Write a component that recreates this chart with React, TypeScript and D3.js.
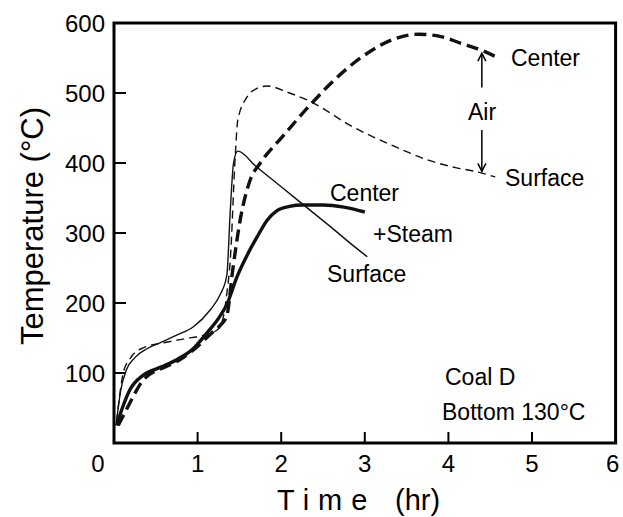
import { useEffect, useRef } from "react";
import * as d3 from "d3";

// Air: center (thick dashed), surface (thin dashed)
const airCenterTime = [0.05, 0.15, 0.25, 0.33, 0.45, 0.6, 0.8, 1.0, 1.15, 1.27, 1.35, 1.42, 1.51, 1.63, 1.75, 2.01, 2.37, 2.57, 2.96, 3.37, 3.64, 3.9, 4.15, 4.4, 4.6];
const airCenterTemp = [25, 48, 71, 87, 100, 108, 120, 138, 155, 168, 182, 247, 319, 376, 400, 437, 486, 511, 551, 578, 584, 581, 571, 561, 550];

const airSurfaceTime = [0.03, 0.07, 0.11, 0.2, 0.35, 0.63, 0.85, 1.07, 1.23, 1.3, 1.35, 1.39, 1.45, 1.48, 1.59, 1.7, 1.83, 2.1, 2.38, 2.82, 3.37, 3.76, 4.1, 4.36, 4.56];
const airSurfaceTemp = [30, 70, 100, 122, 136, 144, 149, 154, 161, 176, 214, 260, 409, 461, 494, 506, 510, 500, 486, 454, 423, 404, 393, 387, 380];

// +Steam: center (thick solid), surface (thin solid)
const steamCenterTime = [0.03, 0.1, 0.19, 0.35, 0.55, 0.75, 0.95, 1.11, 1.25, 1.35, 1.47, 1.6, 1.71, 1.83, 1.95, 2.1, 2.25, 2.5, 2.75, 3.0];
const steamCenterTemp = [25, 50, 76, 97, 108, 119, 135, 157, 178, 198, 237, 270, 294, 318, 332, 338, 340, 340, 337, 330];

const steamSurfaceTime = [0.03, 0.08, 0.15, 0.25, 0.4, 0.55, 0.75, 0.95, 1.15, 1.27, 1.35, 1.39, 1.43, 1.48, 1.7, 2.0, 2.3, 2.6, 2.85, 3.03];
const steamSurfaceTemp = [30, 75, 105, 122, 135, 143, 154, 166, 190, 212, 240, 330, 400, 417, 395, 366, 337, 308, 283, 266];

const xTicks = [1, 2, 3, 4, 5];
const xTickLabels = ["0", "1", "2", "3", "4", "5", "6"];
const yTicks = [100, 200, 300, 400, 500];
const yTickLabels = ["100", "200", "300", "400", "500", "600"];

const FONT = "'Liberation Sans', Arial, Helvetica, sans-serif";

const App = () => {
  const svgRef = useRef<SVGSVGElement>(null);

  useEffect(() => {
    if (!svgRef.current) return;
    const svg = d3.select(svgRef.current);
    svg.selectAll("*").remove();

    const x = d3.scaleLinear().domain([0, 6]).range([114, 615.6]);
    const y = d3.scaleLinear().domain([0, 600]).range([443, 23]);

    const line = d3
      .line<[number, number]>()
      .x((d) => x(d[0]))
      .y((d) => y(d[1]))
      .curve(d3.curveMonotoneX);

    const zip = (a: number[], b: number[]) => a.map((t, i) => [t, b[i]] as [number, number]);

    const series = [
      { data: zip(steamSurfaceTime, steamSurfaceTemp), width: 1.4, dash: null },
      { data: zip(airSurfaceTime, airSurfaceTemp), width: 1.4, dash: "8,5" },
      { data: zip(steamCenterTime, steamCenterTemp), width: 3.4, dash: null },
      { data: zip(airCenterTime, airCenterTemp), width: 3.4, dash: "12,6" },
    ];

    series.forEach((s) => {
      svg
        .append("path")
        .attr("d", line(s.data))
        .attr("fill", "none")
        .attr("stroke", "#111")
        .attr("stroke-width", s.width)
        .attr("stroke-dasharray", s.dash)
        .attr("stroke-linecap", "butt");
    });

    // frame
    svg
      .append("rect")
      .attr("x", x(0))
      .attr("y", y(600))
      .attr("width", x(6) - x(0))
      .attr("height", y(0) - y(600))
      .attr("fill", "none")
      .attr("stroke", "#000")
      .attr("stroke-width", 3);

    // inward ticks
    svg
      .selectAll(".xtick")
      .data(xTicks)
      .join("line")
      .attr("x1", (d) => x(d))
      .attr("x2", (d) => x(d))
      .attr("y1", y(0))
      .attr("y2", y(0) - 11)
      .attr("stroke", "#000")
      .attr("stroke-width", 2);
    svg
      .selectAll(".ytick")
      .data(yTicks)
      .join("line")
      .attr("x1", x(0))
      .attr("x2", x(0) + 12)
      .attr("y1", (d) => y(d))
      .attr("y2", (d) => y(d))
      .attr("stroke", "#000")
      .attr("stroke-width", 2);

    // tick labels
    svg
      .selectAll(".xlab")
      .data(xTickLabels)
      .join("text")
      .attr("x", (d, i) => (i === 0 ? x(0) - 16 : i === 6 ? x(6) - 3 : x(i)))
      .attr("y", 472)
      .attr("text-anchor", "middle")
      .style("font-family", FONT)
      .style("font-size", "24px")
      .text((d) => d);
    svg
      .selectAll(".ylab")
      .data(yTickLabels)
      .join("text")
      .attr("x", 105)
      .attr("y", (d) => y(+d) + 8.5)
      .attr("text-anchor", "end")
      .style("font-family", FONT)
      .style("font-size", "24px")
      .text((d) => d);

    // axis titles
    svg
      .append("text")
      .attr("transform", "translate(43,226) rotate(-90)")
      .attr("text-anchor", "middle")
      .style("font-family", FONT)
      .style("font-size", "31px")
      .text("Temperature (°C)");
    const xt = svg
      .append("text")
      .attr("x", 277)
      .attr("y", 510)
      .style("font-family", FONT)
      .style("font-size", "29px");
    xt.append("tspan").attr("letter-spacing", 9).text("Time");
    xt.append("tspan").attr("x", 395).text("(hr)");

    // annotations
    const notes = [
      { text: "Center", x: 511, y: 66 },
      { text: "Air", x: 482, y: 120, anchor: "middle" },
      { text: "Surface", x: 505, y: 186 },
      { text: "Center", x: 330, y: 201 },
      { text: "+Steam", x: 373, y: 242 },
      { text: "Surface", x: 327, y: 282 },
      { text: "Coal D", x: 445, y: 385 },
      { text: "Bottom 130°C", x: 442, y: 420 },
    ];
    notes.forEach((n) => {
      svg
        .append("text")
        .attr("x", n.x)
        .attr("y", n.y)
        .attr("text-anchor", n.anchor || "start")
        .style("font-family", FONT)
        .style("font-size", "23px")
        .text(n.text);
    });

    // arrow between Air center and surface
    const ax = x(4.4);
    const arrow = (y1: number, y2: number) => {
      svg
        .append("line")
        .attr("x1", ax)
        .attr("x2", ax)
        .attr("y1", y1)
        .attr("y2", y2)
        .attr("stroke", "#000")
        .attr("stroke-width", 1.5);
      const dir = y2 > y1 ? 1 : -1;
      svg
        .append("path")
        .attr("d", `M${ax - 4},${y2 - dir * 8}L${ax},${y2}L${ax + 4},${y2 - dir * 8}`)
        .attr("fill", "none")
        .attr("stroke", "#000")
        .attr("stroke-width", 1.5);
    };
    arrow(y(508), y(557));
    arrow(y(447), y(388));
  }, []);

  return (
    <svg
      ref={svgRef}
      width={623}
      height={517}
      style={{ position: "absolute", left: 0, top: 0, background: "#fff" }}
    ></svg>
  );
};

export default App;
